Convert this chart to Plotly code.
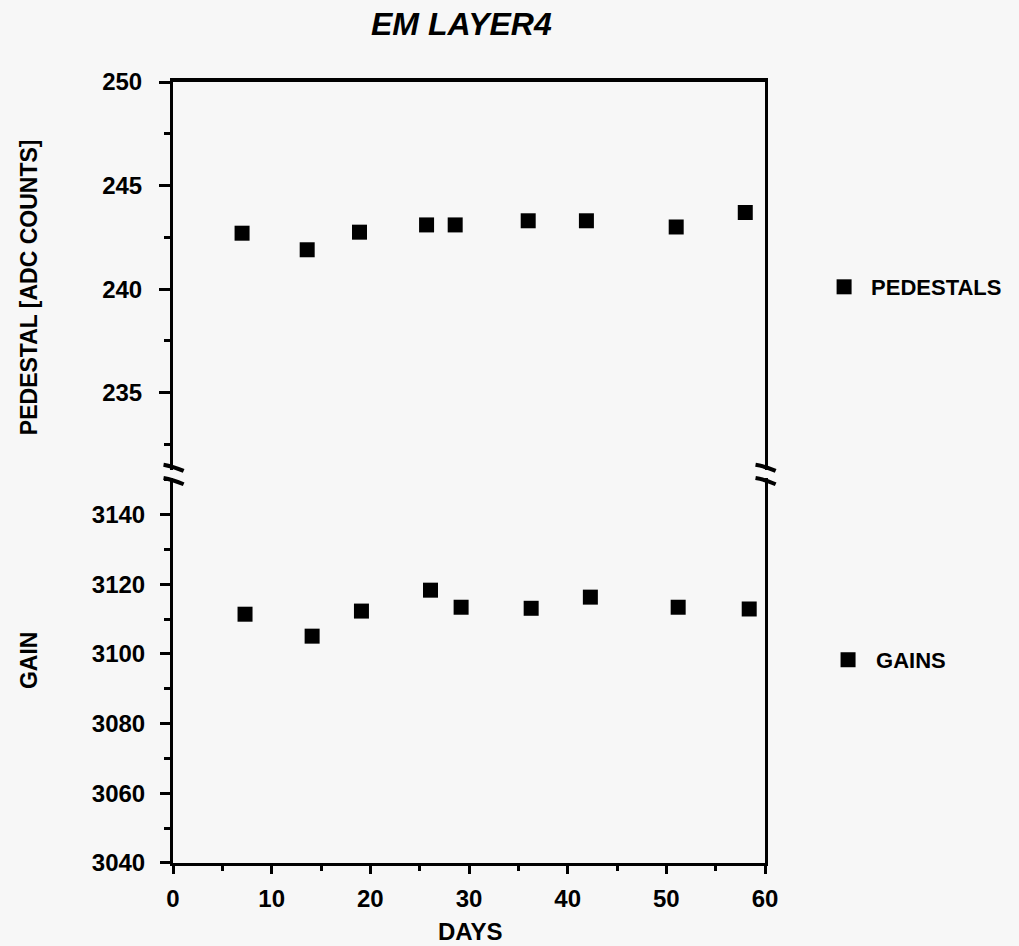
import plotly.graph_objects as go

# ---- data ----
ped_days = [7.0, 13.6, 18.9, 25.7, 28.6, 36.0, 41.9, 51.0, 58.0]
ped_vals = [242.7, 241.9, 242.75, 243.1, 243.1, 243.3, 243.3, 243.0, 243.7]

gain_days = [7.3, 14.1, 19.1, 26.1, 29.2, 36.3, 42.3, 51.2, 58.4]
gain_vals = [3111.4, 3105.1, 3112.3, 3118.3, 3113.4, 3113.1, 3116.3, 3113.4, 3112.9]

x_ticks = [0, 10, 20, 30, 40, 50, 60]
ped_ticks = [235, 240, 245, 250]
gain_ticks = [3040, 3060, 3080, 3100, 3120, 3140]

BG = "#f7f7f7"
FONT = "Liberation Sans"
tickfont = dict(family=FONT, size=24, color="black", weight="bold")
legfont = dict(family=FONT, size=22, color="black", weight="bold")

fig = go.Figure()
fig.add_trace(go.Scatter(
    x=ped_days, y=ped_vals, mode="markers", name="PEDESTALS",
    marker=dict(symbol="square", size=15, color="black"),
    xaxis="x", yaxis="y", legend="legend", cliponaxis=False))
fig.add_trace(go.Scatter(
    x=gain_days, y=gain_vals, mode="markers", name="GAINS",
    marker=dict(symbol="square", size=15, color="black"),
    xaxis="x2", yaxis="y2", legend="legend2", cliponaxis=False))

axis_common = dict(showgrid=False, zeroline=False, linecolor="black",
                   tickcolor="black")

fig.update_layout(
    width=1019, height=946, autosize=False,
    paper_bgcolor=BG, plot_bgcolor=BG,
    margin=dict(l=173, r=251, t=82, b=83),
    xaxis=dict(domain=[0, 1], anchor="y", side="top", range=[0, 60],
               matches="x2", showline=True, linewidth=4, mirror=False,
               ticks="", showticklabels=False, **axis_common),
    yaxis=dict(domain=[0.503, 1], anchor="x", range=[231.26, 250],
               tickvals=ped_ticks, showline=True, linewidth=3, mirror=True,
               ticks="outside", ticklen=11, tickwidth=3, tickfont=tickfont,
               ticklabelstandoff=12,
               minor=dict(dtick=2.5, tick0=0, ticks="outside", ticklen=6,
                          tickwidth=3, tickcolor="black"),
               **axis_common),
    xaxis2=dict(domain=[0, 1], anchor="y2", range=[0, 60], tickvals=x_ticks,
                showline=True, linewidth=3, ticks="outside", ticklen=8,
                tickwidth=3, tickfont=tickfont, ticklabelstandoff=4,
                minor=dict(dtick=5, tick0=0, ticks="outside", ticklen=5,
                           tickwidth=3, tickcolor="black"),
                **axis_common),
    yaxis2=dict(domain=[0, 0.493], anchor="x2", range=[3040, 3150.5],
                tickvals=gain_ticks, showline=True, linewidth=3, mirror=True,
                ticks="outside", ticklen=10, tickwidth=3, tickfont=tickfont,
                ticklabelstandoff=10,
                minor=dict(dtick=10, tick0=0, ticks="outside", ticklen=6,
                           tickwidth=3, tickcolor="black"),
                **axis_common),
    legend=dict(x=1.088, y=0.7375, xanchor="left", yanchor="middle",
                bgcolor="rgba(0,0,0,0)", itemwidth=44, borderwidth=0,
                font=legfont),
    legend2=dict(x=1.093, y=0.26, xanchor="left", yanchor="middle",
                 bgcolor="rgba(0,0,0,0)", itemwidth=46, borderwidth=0,
                 font=legfont),
    showlegend=True,
)

# titles
fig.add_annotation(text="EM LAYER4", xref="paper", yref="paper",
                   x=0.487, y=1.074, xanchor="center", yanchor="middle",
                   showarrow=False,
                   font=dict(family=FONT, size=32, color="black",
                             weight="bold", style="italic"))
fig.add_annotation(text="PEDESTAL [ADC COUNTS]", xref="paper", yref="paper",
                   x=-0.243, y=0.7375, xanchor="center", yanchor="middle",
                   textangle=-90, showarrow=False,
                   font=dict(family=FONT, size=23, color="black", weight="bold"))
fig.add_annotation(text="GAIN", xref="paper", yref="paper",
                   x=-0.243, y=0.26, xanchor="center", yanchor="middle",
                   textangle=-90, showarrow=False,
                   font=dict(family=FONT, size=23, color="black", weight="bold"))
fig.add_annotation(text="DAYS", xref="paper", yref="paper",
                   x=0.5025, y=-0.0883, xanchor="center", yanchor="middle",
                   showarrow=False,
                   font=dict(family=FONT, size=24, color="black", weight="bold"))

# axis-break marks
for xc in (0.0, 1.0):
    for yc in (0.506, 0.489):
        fig.add_shape(type="path", xref="paper", yref="paper",
                      path=f"M {xc-0.016},{yc+0.004} Q {xc},{yc+0.002} {xc+0.018},{yc-0.004}",
                      line=dict(color="black", width=4))

fig.write_html(
    "out.html",
    config={"displayModeBar": False},
    post_script="document.body.style.margin='0';"
                "document.body.style.background='#f7f7f7';"
                "document.documentElement.style.background='#f7f7f7';")
